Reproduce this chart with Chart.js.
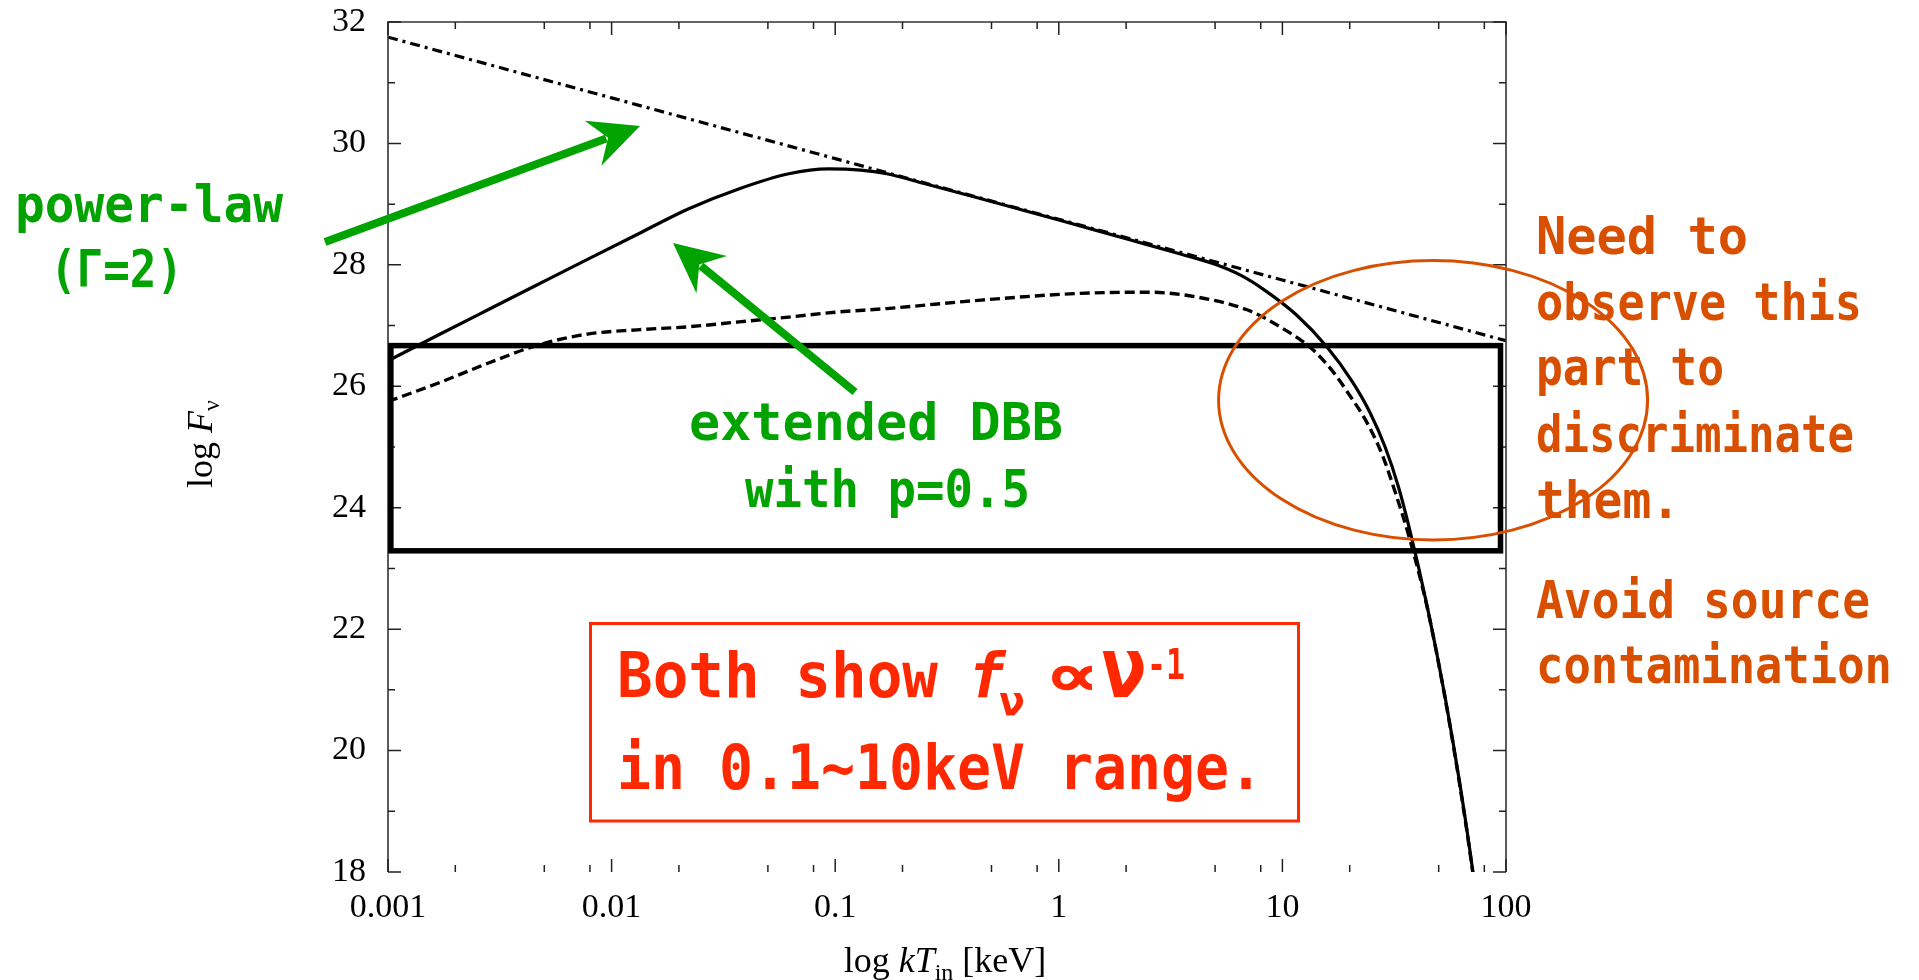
<!DOCTYPE html>
<html>
<head>
<meta charset="utf-8">
<script src="https://cdn.jsdelivr.net/npm/chart.js@4.4.1/dist/chart.umd.min.js"></script>
<style>
  html, body { margin: 0; padding: 0; background: #fff; overflow: hidden; }
  #wrap { position: relative; width: 1919px; height: 980px; }
</style>
</head>
<body>
<div id="wrap"><canvas id="fluxChart"></canvas></div>
<script>
// log F_nu against kT_in [keV]

// power-law, Gamma = 2 (dash-dot)
const plawX = [0.001, 0.01, 0.1, 1, 10, 100];
const plawY = [31.75, 30.75, 29.75, 28.75, 27.75, 26.75];

// extended DBB, p = 0.5 (solid)
const extX = [0.001, 0.00167, 0.0028, 0.0047, 0.0078, 0.013, 0.022, 0.037, 0.062, 0.093, 0.13, 0.17,
              0.25, 0.45, 1.0, 2.0, 3.5, 5.0, 6.5, 8.2, 11.6, 15.8, 20.5, 24.7, 28.8, 33, 37.2, 44.4, 53.3, 62.2, 71.1, 75];
const extY = [26.42, 26.84, 27.26, 27.68, 28.09, 28.50, 28.92, 29.25, 29.50, 29.58, 29.56, 29.50,
              29.34, 29.09, 28.74, 28.43, 28.18, 28.01, 27.83, 27.60, 27.17, 26.65, 26.08, 25.56, 25.0, 24.35, 23.62, 22.38, 20.9, 19.45, 18.0, 17.3];

// standard DBB (dashed)
const dbbX = [0.001, 0.00167, 0.0028, 0.0047, 0.0078, 0.013, 0.022, 0.037, 0.062, 0.10, 0.17, 0.45,
              1.24, 2.5, 4.15, 6.95, 9.75, 13.7, 17, 20, 23.5, 27.9, 32, 37, 44.4, 53.3, 62.2, 71.1, 75];
const dbbY = [25.75, 26.05, 26.38, 26.68, 26.86, 26.93, 26.98, 27.06, 27.14, 27.22, 27.28, 27.42,
              27.53, 27.55, 27.47, 27.26, 26.98, 26.60, 26.22, 25.85, 25.45, 24.88, 24.25, 23.5, 22.36, 20.88, 19.42, 17.98, 17.3];

// axes
const xMajor = [0.001, 0.01, 0.1, 1, 10, 100];
const xMajorLabels = ['0.001', '0.01', '0.1', '1', '10', '100'];
const xMinorSteps = [2, 5, 8];
const yMin = 18, yMax = 32;

const toPoints = (xs, ys) => xs.map((v, i) => ({x: v, y: ys[i]}));
const isXMajor = v => xMajor.some(m => Math.abs(v - m) / m < 1e-6);

function fitText(ctx, str, x, y, font, color, width) {
  ctx.save();
  ctx.font = font;
  ctx.fillStyle = color;
  ctx.textAlign = 'left';
  ctx.textBaseline = 'alphabetic';
  const w = ctx.measureText(str).width;
  ctx.translate(x, y);
  if (width) ctx.scale(width / w, 1);
  ctx.fillText(str, 0, 0);
  ctx.restore();
}

function arrow(ctx, x0, y0, x1, y1, color) {
  const len = Math.hypot(x1 - x0, y1 - y0);
  const dx = (x1 - x0) / len, dy = (y1 - y0) / len;
  const px = -dy, py = dx;
  ctx.save();
  ctx.strokeStyle = color;
  ctx.fillStyle = color;
  ctx.lineWidth = 8;
  ctx.beginPath();
  ctx.moveTo(x0, y0);
  ctx.lineTo(x1 - dx * 36, y1 - dy * 36);
  ctx.stroke();
  ctx.beginPath();
  ctx.moveTo(x1, y1);
  ctx.lineTo(x1 - dx * 50 + px * 24, y1 - dy * 50 + py * 24);
  ctx.lineTo(x1 - dx * 34, y1 - dy * 34);
  ctx.lineTo(x1 - dx * 50 - px * 24, y1 - dy * 50 - py * 24);
  ctx.closePath();
  ctx.fill();
  ctx.restore();
}

// frame with inward ticks on all four sides (no bottom line, as in the figure)
const framePlugin = {
  id: 'frame',
  afterDatasetsDraw(chart) {
    const {ctx, chartArea: a, scales: {x, y}} = chart;
    ctx.save();
    ctx.strokeStyle = '#333';
    ctx.lineWidth = 1.6;
    ctx.beginPath();
    ctx.moveTo(a.left, a.bottom);
    ctx.lineTo(a.left, a.top);
    ctx.lineTo(a.right, a.top);
    ctx.lineTo(a.right, a.bottom);
    ctx.stroke();

    ctx.strokeStyle = '#222';
    ctx.lineWidth = 1.5;
    ctx.beginPath();
    x.ticks.forEach(t => {
      const p = x.getPixelForValue(t.value);
      const len = isXMajor(t.value) ? 13 : 7;
      ctx.moveTo(p, a.bottom); ctx.lineTo(p, a.bottom - len);
      ctx.moveTo(p, a.top); ctx.lineTo(p, a.top + len);
    });
    y.ticks.forEach(t => {
      const p = y.getPixelForValue(t.value);
      const len = t.value % 2 === 0 ? 13 : 7;
      ctx.moveTo(a.left, p); ctx.lineTo(a.left + len, p);
      ctx.moveTo(a.right, p); ctx.lineTo(a.right - len, p);
    });
    ctx.stroke();

    // axis titles
    ctx.fillStyle = '#000';
    ctx.textBaseline = 'alphabetic';
    const serif = '"Liberation Serif", "Times New Roman", serif';
    const xParts = [
      ['log ', '36px ' + serif, 0],
      ['kT', 'italic 36px ' + serif, 0],
      ['in', '24px ' + serif, 8],
      [' [keV]', '36px ' + serif, 0]
    ];
    let total = 0;
    xParts.forEach(p => { ctx.font = p[1]; total += ctx.measureText(p[0]).width; });
    let cx = (a.left + a.right) / 2 - total / 2 - 2;
    xParts.forEach(p => { ctx.font = p[1]; ctx.fillText(p[0], cx, 972 + p[2]); cx += ctx.measureText(p[0]).width; });

    const yParts = [
      ['log ', '36px ' + serif, 0],
      ['F', 'italic 36px ' + serif, 0],
      ['ν', '24px ' + serif, 7]
    ];
    total = 0;
    yParts.forEach(p => { ctx.font = p[1]; total += ctx.measureText(p[0]).width; });
    ctx.save();
    ctx.translate(212, (a.top + a.bottom) / 2 - 3);
    ctx.rotate(-Math.PI / 2);
    cx = -total / 2;
    yParts.forEach(p => { ctx.font = p[1]; ctx.fillText(p[0], cx, p[2]); cx += ctx.measureText(p[0]).width; });
    ctx.restore();
    ctx.restore();
  }
};

// slide annotations
const notesPlugin = {
  id: 'notes',
  afterDraw(chart) {
    const {ctx, scales: {x, y}} = chart;
    const green = '#00a300', orange = '#d94f00', red = '#ff2800';
    const mono = '"DejaVu Sans Mono", monospace';

    // black box over 0.001-100 keV, log F 23.3-26.7
    ctx.save();
    ctx.strokeStyle = '#000';
    ctx.lineWidth = 5.5;
    const bx0 = x.getPixelForValue(0.00103), bx1 = x.getPixelForValue(94.5);
    const by0 = y.getPixelForValue(26.67), by1 = y.getPixelForValue(23.29);
    ctx.strokeRect(bx0, by0, bx1 - bx0, by1 - by0);

    // orange ellipse around the cut-off region
    ctx.strokeStyle = orange;
    ctx.lineWidth = 3;
    ctx.beginPath();
    ctx.ellipse(x.getPixelForValue(47.2), y.getPixelForValue(25.77), 214.5, 139.7, 0, 0, Math.PI * 2);
    ctx.stroke();
    ctx.restore();

    // green labels and arrows
    arrow(ctx, 325, 242, 640, 126, green);
    arrow(ctx, 855, 392, 673, 243, green);
    const gFont = 'bold 52px ' + mono;
    fitText(ctx, 'power-law', 15, 222, gFont, green, 268);
    fitText(ctx, '(Γ=2)', 50, 287, gFont, green, 133);
    fitText(ctx, 'extended DBB', 689, 440, gFont, green, 374);
    fitText(ctx, 'with p=0.5', 745, 507, gFont, green, 285);

    // orange text on the right
    const oFont = 'bold 52px ' + mono;
    const oLines = [
      ['Need to', 254, 212], ['observe this', 320, 326], ['part to', 385, 188],
      ['discriminate', 452, 318], ['them.', 518, 144],
      ['Avoid source', 618, 334], ['contamination', 683, 356]
    ];
    oLines.forEach(l => fitText(ctx, l[0], 1536, l[1], oFont, orange, l[2]));

    // red box
    ctx.save();
    ctx.strokeStyle = red;
    ctx.lineWidth = 3;
    ctx.strokeRect(590.5, 623.5, 708, 197.5);
    ctx.restore();
    fitText(ctx, 'Both show', 617, 697, 'bold 62px ' + mono, red, 321);
    fitText(ctx, 'f', 968, 697, 'bold italic 62px ' + mono, red);
    fitText(ctx, 'ν', 999, 715, 'bold 40px ' + mono, red, 26);
    fitText(ctx, '∝', 1044, 697, 'bold 62px ' + mono, red, 56);
    fitText(ctx, 'ν', 1101, 697, 'bold 84px ' + mono, red, 46);
    fitText(ctx, '-1', 1147, 679, 'bold 42px ' + mono, red, 38);
    fitText(ctx, 'in 0.1~10keV range.', 617, 789, 'bold 62px ' + mono, red, 646);
  }
};

const tickFont = {family: '"Liberation Serif", "Times New Roman", serif', size: 34};

new Chart(document.getElementById('fluxChart').getContext('2d'), {
  type: 'line',
  data: {
    datasets: [
      {
        label: 'power-law',
        data: toPoints(plawX, plawY),
        borderColor: '#000',
        borderWidth: 3.2,
        borderDash: [10, 5, 3, 5],
        pointRadius: 0,
        tension: 0
      },
      {
        label: 'DBB',
        data: toPoints(dbbX, dbbY),
        borderColor: '#000',
        borderWidth: 3.4,
        borderDash: [10, 5],
        pointRadius: 0,
        cubicInterpolationMode: 'monotone'
      },
      {
        label: 'extended DBB',
        data: toPoints(extX, extY),
        borderColor: '#000',
        borderWidth: 3.2,
        pointRadius: 0,
        cubicInterpolationMode: 'monotone'
      }
    ]
  },
  options: {
    responsive: true,
    maintainAspectRatio: false,
    animation: false,
    layout: {padding: {left: 0, top: 22, right: 413, bottom: 0}},
    plugins: {legend: {display: false}, tooltip: {enabled: false}},
    scales: {
      x: {
        type: 'logarithmic',
        min: 0.001,
        max: 100,
        grid: {display: false, drawTicks: false},
        border: {display: false},
        afterBuildTicks(scale) {
          const vals = [];
          xMajor.forEach((m, i) => {
            vals.push(m);
            if (i < xMajor.length - 1) xMinorSteps.forEach(s => vals.push(m * s));
          });
          scale.ticks = vals.map(v => ({value: v}));
        },
        afterFit(scale) {
          scale.height = 108;
          scale.paddingLeft = 0;
          scale.paddingRight = 0;
        },
        ticks: {
          autoSkip: false,
          maxRotation: 0,
          padding: 16,
          color: '#000',
          font: tickFont,
          callback(value) {
            const i = xMajor.findIndex(m => Math.abs(value - m) / m < 1e-6);
            return i >= 0 ? xMajorLabels[i] : '';
          }
        }
      },
      y: {
        type: 'linear',
        min: yMin,
        max: yMax,
        grid: {display: false, drawTicks: false},
        border: {display: false},
        afterFit(scale) {
          scale.width = 388;
          scale.paddingTop = 0;
          scale.paddingBottom = 0;
        },
        ticks: {
          stepSize: 1,
          autoSkip: false,
          padding: 22,
          color: '#000',
          font: tickFont,
          callback(value) { return value % 2 === 0 ? String(value) : ''; }
        }
      }
    }
  },
  plugins: [framePlugin, notesPlugin]
});
</script>
</body>
</html>
